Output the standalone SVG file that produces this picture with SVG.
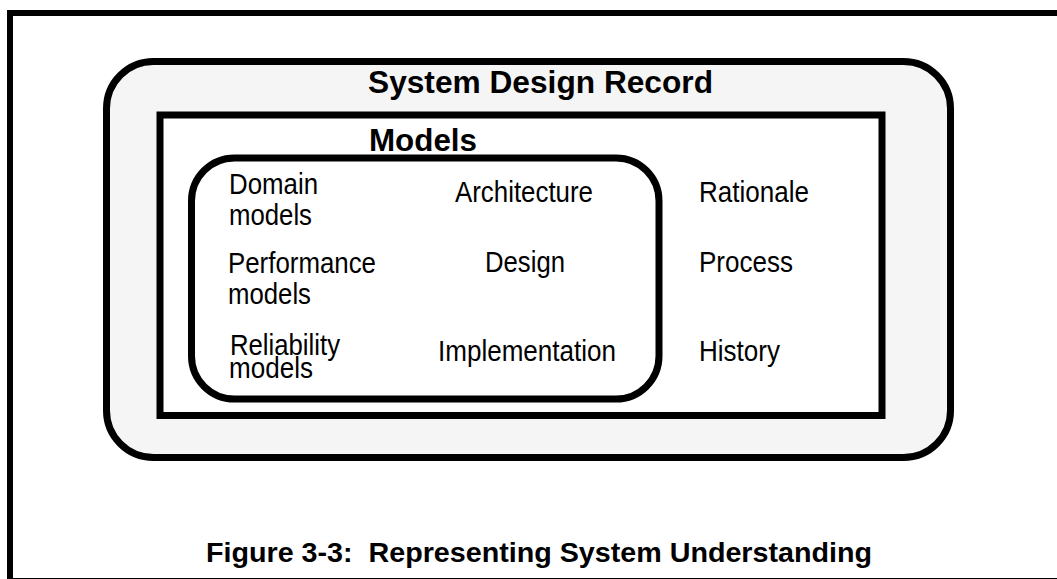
<svg xmlns="http://www.w3.org/2000/svg" width="1057" height="579" viewBox="0 0 1057 579">
  <style>
    .frame { fill: #ffffff; stroke: #000000; stroke-width: 6; }
    .box { stroke: #000000; stroke-width: 7; }
    .bold { font-family: "Liberation Sans", Arial, sans-serif; font-weight: bold; fill: #000000; }
    .reg { font-family: "Liberation Sans", Arial, sans-serif; font-size: 29px; fill: #000000; }
  </style>
  <rect width="1057" height="579" fill="#ffffff"/>
  <rect class="frame" x="10" y="13" width="1060" height="568"/>

  <g id="system-design-record">
    <rect class="box" x="106.5" y="61.5" width="844" height="396" rx="47" ry="47" fill="#f5f5f5"/>
    <text class="bold" x="368" y="93" font-size="31" textLength="345" lengthAdjust="spacingAndGlyphs">System Design Record</text>
  </g>

  <g id="record-contents">
    <rect class="box" x="160" y="115" width="722" height="300.5" fill="#ffffff" stroke-width="6.5"/>
    <text class="reg" x="699" y="202" textLength="110" lengthAdjust="spacingAndGlyphs">Rationale</text>
    <text class="reg" x="699" y="272" textLength="94" lengthAdjust="spacingAndGlyphs">Process</text>
    <text class="reg" x="699" y="361" textLength="81" lengthAdjust="spacingAndGlyphs">History</text>
  </g>

  <g id="models">
    <text class="bold" x="369" y="151" font-size="31" textLength="108" lengthAdjust="spacingAndGlyphs">Models</text>
    <rect class="box" x="191.5" y="158" width="467.5" height="241" rx="43" ry="43" fill="none"/>
    <text class="reg" x="229" y="194" textLength="89" lengthAdjust="spacingAndGlyphs">Domain</text>
    <text class="reg" x="229" y="225" textLength="83" lengthAdjust="spacingAndGlyphs">models</text>
    <text class="reg" x="228" y="273" textLength="148" lengthAdjust="spacingAndGlyphs">Performance</text>
    <text class="reg" x="228" y="304" textLength="83" lengthAdjust="spacingAndGlyphs">models</text>
    <text class="reg" x="230" y="355" textLength="110" lengthAdjust="spacingAndGlyphs">Reliability</text>
    <text class="reg" x="229" y="378" textLength="84" lengthAdjust="spacingAndGlyphs">models</text>
    <text class="reg" x="455" y="202" textLength="138" lengthAdjust="spacingAndGlyphs">Architecture</text>
    <text class="reg" x="485" y="272" textLength="80" lengthAdjust="spacingAndGlyphs">Design</text>
    <text class="reg" x="438" y="361" textLength="178" lengthAdjust="spacingAndGlyphs">Implementation</text>
  </g>

  <g id="connectors"></g>

  <g id="caption">
    <text class="bold" x="206" y="562" font-size="28" textLength="666" lengthAdjust="spacingAndGlyphs" xml:space="preserve">Figure 3-3:  Representing System Understanding</text>
  </g>
</svg>
